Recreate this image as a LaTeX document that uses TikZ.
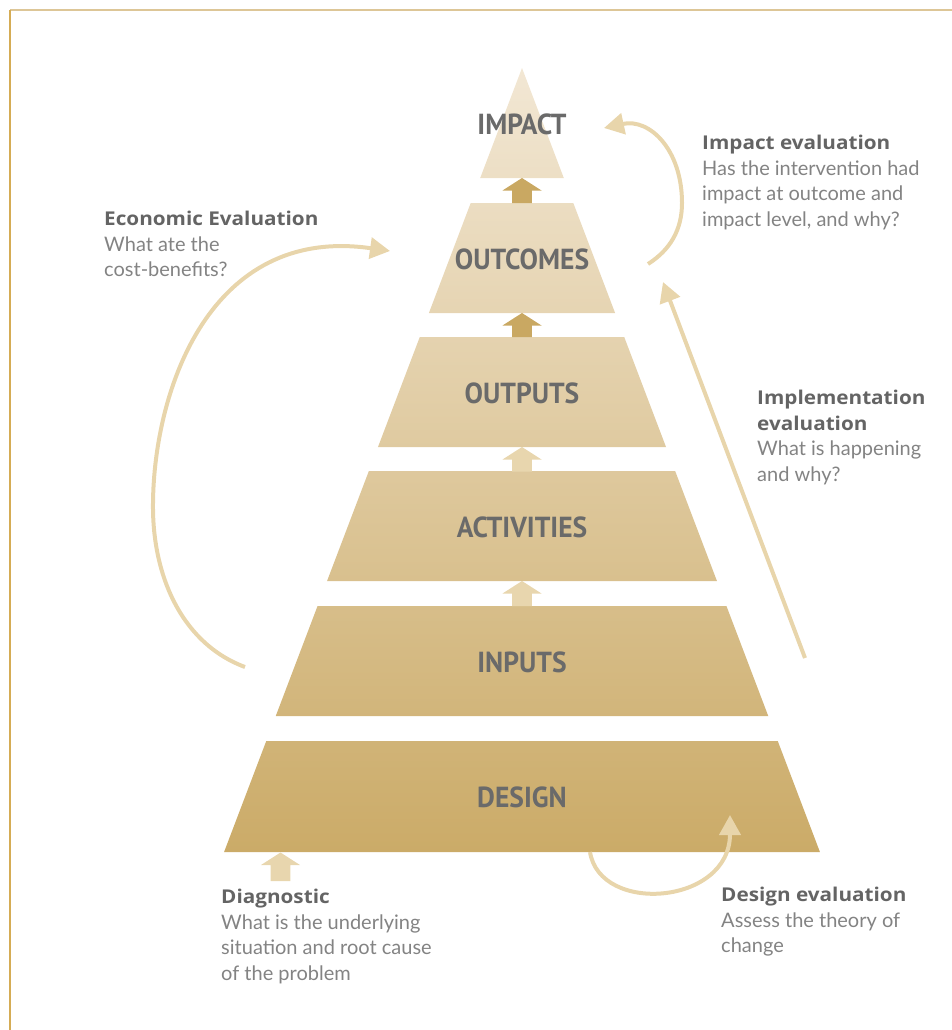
\documentclass[tikz,border=0pt]{standalone}
\usepackage{fontspec}
\setmainfont{Lato}
\newfontfamily\headfont{Open Sans}[FakeStretch=1.09]
\newfontfamily\tierfont{PT Sans}[FakeStretch=0.95]
\usetikzlibrary{arrows.meta}
\definecolor{pyrtop}{HTML}{F2E7D4}
\definecolor{pyrbot}{HTML}{CBAB68}
\definecolor{arrdark}{HTML}{C9A862}
\definecolor{arrlight}{HTML}{E8D6AE}
\definecolor{curvecol}{HTML}{E8D5AB}
\definecolor{headgray}{HTML}{646464}
\definecolor{bodygray}{HTML}{838383}
\definecolor{tiergray}{HTML}{6A6A6A}
\definecolor{frametop}{HTML}{DDC697}
\definecolor{frameleft}{HTML}{D5AC55}
\newcommand\pyrtier[5]{%
  \shade[top color=pyrbot!#4!pyrtop, bottom color=pyrbot!#5!pyrtop]
    ({522-0.38*(#2-68)},#2) -- ({522+0.38*(#2-68)},#2) --
    ({522+0.38*(#3-68)},#3) -- ({522-0.38*(#3-68)},#3) -- cycle;
  \coordinate (#1) at (522,{(#2+#3)/2+1});
}
\newcommand\tierarrow[4]{%
  \fill[#4] (#1,#2) -- ({#1+19.5},{#2+12.5}) -- ({#1+9.8},{#2+12.5}) -- ({#1+9.8},#3)
    -- ({#1-9.8},#3) -- ({#1-9.8},{#2+12.5}) -- ({#1-19.5},{#2+12.5}) -- cycle;
}
\newcommand\notehead[1]{{\headfont\bfseries\color{headgray}\fontsize{19}{25.5}\selectfont #1}}
\begin{document}
\begin{tikzpicture}[x=1pt,y=-1pt,
  tierlabel/.style={font=\tierfont\bfseries\fontsize{29}{29}\selectfont, text=tiergray, inner sep=0pt},
  note/.style={anchor=north west, align=left, inner sep=0pt, text=bodygray, font=\fontsize{20}{25.5}\selectfont},
  evalarrow/.style={draw=curvecol, line width=4pt, -{Triangle[length=20pt,width=21pt]}},
  frameline/.style={line width=1.5pt}
]
\useasboundingbox (0,0) rectangle (952,1030);
% frame
\draw[frameline, frametop] (10,10) -- (952,10);
\draw[frameline, frameleft] (10,10) -- (10,1030);

% pyramid tiers
\pyrtier{impact}{68}{178}{0}{14}
\pyrtier{outcomes}{203}{313}{17}{31}
\pyrtier{outputs}{337}{447}{34}{48}
\pyrtier{activities}{471}{581}{51}{65}
\pyrtier{inputs}{606}{716}{69}{83}
\pyrtier{design}{741}{852}{86}{100}

% small arrows between tiers
\tierarrow{522}{178}{203}{arrdark}
\tierarrow{522}{313}{337}{arrdark}
\tierarrow{522}{447}{471.5}{arrlight}
\tierarrow{522}{581}{606}{arrlight}
\tierarrow{280.5}{852.5}{881}{arrlight}

% tier labels
\node[tierlabel] (impactlbl) at (impact) {IMPACT};
\node[tierlabel] (outcomeslbl) at (outcomes) {OUTCOMES};
\node[tierlabel] (outputslbl) at (outputs) {OUTPUTS};
\node[tierlabel] (activitieslbl) at (activities) {ACTIVITIES};
\node[tierlabel] (inputslbl) at (inputs) {INPUTS};
\node[tierlabel] (designlbl) at (design) {DESIGN};

% notes
\node[note] (econ) at (104,211) {\notehead{Economic Evaluation}\\What ate the\\cost-benefits?};
\node[note] (impev) at (702,135) {\notehead{Impact evaluation}\\Has the intervention had\\impact at outcome and\\impact level, and why?};
\node[note] (implev) at (757,390) {\notehead{Implementation}\\\notehead{evaluation}\\What is happening\\and why?};
\node[note] (diag) at (221,889) {\notehead{Diagnostic}\\What is the underlying\\situation and root cause\\of the problem};
\node[note] (desev) at (721,887) {\notehead{Design evaluation}\\Assess the theory of\\change};

% evaluation arrows
\coordinate (econS) at (245,667);
\coordinate (econM) at (153,503);
\coordinate (econE) at (390,251);
\draw[evalarrow] (econS) .. controls (185,645) and (152,580) .. (econM)
  .. controls (154,390) and (210,225) .. (econE);
\coordinate (impS) at (648,264);
\coordinate (impM) at (682,203);
\coordinate (impE) at (604,128);
\draw[evalarrow] (impS) .. controls (670,250) and (682,230) .. (impM)
  .. controls (682,150) and (650,118) .. (impE);
\coordinate (implS) at (805,658);
\coordinate (implE) at (663,282);
\draw[evalarrow] (implS) -- (implE);
\coordinate (desS) at (590,852);
\coordinate (desE) at (730,815);
\draw[evalarrow] (desS) .. controls (600,915) and (730,905) .. (desE);
\end{tikzpicture}
\end{document}
